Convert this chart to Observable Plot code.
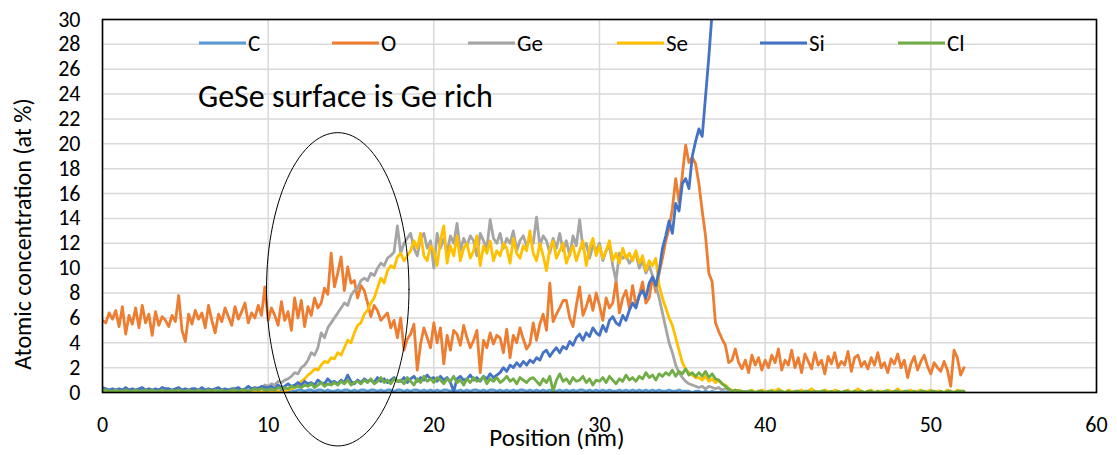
<!DOCTYPE html>
<html>
<head>
<meta charset="utf-8">
<script src="https://cdn.jsdelivr.net/npm/d3@7"></script>
<script src="https://cdn.jsdelivr.net/npm/@observablehq/plot@0.6"></script>
<style>
  body { margin: 0; background: #fff; }
  #chart { position: relative; width: 1117px; height: 455px; }
</style>
</head>
<body>
<div id="chart"></div>
<script>
// ---------- DATA ----------
const seriesNames  = ["C", "O", "Ge", "Se", "Si", "Cl"];
const seriesColors = ["#5B9BD5", "#ED7D31", "#A5A5A5", "#FFC000", "#4472C4", "#70AD47"];
const positionStep = 0.2; // nm between depth-profile samples (first sample at 0 nm)
const xTicks = [0, 10, 20, 30, 40, 50, 60];
const yTicks = [0, 2, 4, 6, 8, 10, 12, 14, 16, 18, 20, 22, 24, 26, 28, 30];
const xLabel = "Position (nm)";
const yLabel = "Atomic concentration (at %)";
const noteText = "GeSe surface is Ge rich";

const C = [
0.1,0.2,0.1,0.1,0.0,0.1,0.2,0.1,0.1,0.0, 0.1,0.1,0.2,0.1,0.0,0.1,0.1,0.2,0.1,0.1,
0.0,0.1,0.2,0.1,0.1,0.0,0.1,0.2,0.1,0.1, 0.1,0.0,0.1,0.2,0.1,0.1,0.0,0.1,0.2,0.1,
0.1,0.2,0.1,0.0,0.1,0.1,0.2,0.1,0.0,0.1, 0.1,0.1,0.2,0.1,0.1,0.2,0.1,0.2,0.1,0.2,
0.2,0.1,0.2,0.2,0.1,0.2,0.2,0.1,0.2,0.1, 0.1,0.2,0.1,0.2,0.2,0.1,0.2,0.1,0.2,0.2,
0.1,0.2,0.2,0.1,0.2,0.1,0.2,0.2,0.1,0.2, 0.2,0.1,0.2,0.1,0.2,0.2,0.1,0.2,0.1,0.2,
0.1,0.2,0.1,0.2,0.2,0.1,0.2,0.1,0.2,0.1, 0.2,0.1,0.2,0.2,0.1,0.2,0.1,0.2,0.2,0.1,
0.2,0.1,0.2,0.1,0.2,0.1,0.2,0.2,0.1,0.2, 0.1,0.2,0.1,0.2,0.1,0.2,0.1,0.1,0.2,0.1,
0.2,0.1,0.2,0.1,0.2,0.2,0.1,0.2,0.1,0.2, 0.1,0.2,0.1,0.2,0.1,0.1,0.2,0.1,0.2,0.1,
0.2,0.1,0.2,0.1,0.2,0.1,0.2,0.1,0.2,0.1, 0.1,0.2,0.1,0.1,0.2,0.1,0.1,0.1,0.0,0.1,
0.1,0.0,0.1,0.0,0.1,0.0,0.0,0.1,0.0,0.1, 0.0,0.1,0.0,0.0,0.1,0.0,0.1,0.0,0.0,0.1,
0.0,0.0,0.1,0.0,0.1,0.0,0.0,0.1,0.0,0.0, 0.1,0.0,0.0,0.1,0.0,0.1,0.0,0.0,0.1,0.0,
0.0,0.1,0.0,0.0,0.1,0.0,0.0,0.1,0.0,0.1, 0.0,0.0,0.1,0.0,0.0,0.1,0.0,0.1,0.0,0.0,
0.1,0.0,0.0,0.1,0.0,0.0,0.1,0.0,0.0,0.1, 0.0];

const O = [
5.8,5.6,6.4,5.9,6.6,5.3,6.9,4.7,6.2,5.5, 6.8,5.2,7.0,5.6,6.3,4.6,6.5,5.4,6.1,5.8,
5.3,6.2,5.7,7.8,5.0,4.1,6.3,5.5,6.6,5.9, 6.4,5.2,7.0,5.8,4.8,6.3,5.7,6.8,6.1,5.4,
6.9,5.9,6.5,7.2,5.6,6.4,6.0,7.0,6.2,8.5, 5.8,6.8,6.2,5.4,7.3,5.8,6.5,5.0,7.6,6.0,
7.4,5.3,6.9,6.2,7.6,6.8,7.2,8.4,7.9,11.2, 8.5,9.6,10.9,8.2,10.1,8.8,9.0,7.6,8.6,8.2,
7.2,6.1,7.0,6.6,5.8,6.1,6.4,5.2,5.8,4.4, 6.0,3.4,4.3,4.7,5.5,1.8,3.9,5.2,4.4,3.6,
5.6,4.0,5.2,2.3,4.6,3.4,5.0,4.7,3.8,5.4, 4.4,3.6,4.2,5.0,1.6,4.2,3.6,4.8,3.9,4.6,
4.4,3.2,5.1,2.8,4.6,4.0,5.2,4.3,3.5,3.9, 5.6,4.2,5.5,6.3,5.0,8.8,5.7,6.3,6.8,7.4,
7.4,6.0,5.3,7.0,8.5,6.2,6.9,7.8,6.6,8.0, 7.0,5.8,7.6,6.8,7.2,9.0,6.4,7.6,8.2,6.8,
8.6,7.0,7.8,8.9,7.2,7.6,9.3,8.1,9.6,10.8, 12.2,13.2,14.8,17.2,15.3,17.5,19.9,18.5,18.9,18.4,
16.8,14.6,12.6,9.6,8.9,5.6,4.9,4.3,3.8,2.4, 2.6,3.5,2.4,1.9,2.6,1.6,3.0,2.2,2.8,1.8,
2.6,2.0,3.0,2.4,3.5,1.8,2.6,2.2,3.4,2.0, 2.8,1.6,3.1,2.5,1.9,3.2,2.2,2.6,1.5,2.9,
2.3,3.2,2.0,2.5,2.2,3.3,1.7,2.8,3.0,2.1, 2.5,1.9,2.8,2.2,3.2,2.0,2.4,1.6,2.7,2.3,
3.1,2.0,2.6,1.2,2.3,2.9,1.8,2.5,3.0,2.1, 1.5,2.4,2.0,1.7,2.5,1.8,0.5,3.4,2.8,1.4,
2.0];

const Ge = [
0.1,0.0,0.1,0.1,0.0,0.1,0.0,0.1,0.0,0.1, 0.0,0.1,0.1,0.0,0.1,0.0,0.1,0.1,0.0,0.1,
0.1,0.0,0.1,0.0,0.1,0.1,0.0,0.1,0.0,0.1, 0.0,0.1,0.0,0.1,0.1,0.0,0.1,0.0,0.1,0.1,
0.1,0.0,0.1,0.1,0.2,0.1,0.2,0.4,0.3,0.6, 0.5,0.7,0.6,0.9,0.8,1.0,1.1,1.3,1.6,1.5,
2.0,2.2,2.6,3.2,3.0,3.6,4.8,4.4,5.2,5.6, 6.0,6.4,6.8,7.2,7.0,7.8,8.2,8.4,9.0,9.2,
9.0,9.6,9.4,10.0,10.4,10.2,10.8,11.0,11.3,13.4, 11.2,12.0,12.4,12.8,11.6,11.0,12.4,12.8,11.6,12.2,
10.0,12.8,11.6,12.4,11.2,12.6,12.0,13.6,11.4,12.4, 11.8,12.6,12.2,11.0,12.8,12.2,11.6,13.9,12.4,12.0,
12.8,11.6,12.4,12.0,13.0,11.4,12.2,12.6,11.8,12.4, 12.0,14.1,11.8,12.6,12.2,11.2,12.4,11.6,12.8,11.4,
12.2,11.0,12.6,11.8,13.9,11.6,12.0,10.8,11.8,11.4, 12.0,10.6,11.4,11.8,10.2,9.0,11.2,10.8,11.0,10.4,
10.8,11.2,10.0,10.6,9.6,10.2,9.4,8.6,7.6,6.4, 5.2,4.0,3.2,2.2,1.6,1.2,0.9,0.7,0.6,0.5,
0.4,0.5,0.3,0.5,0.4,0.3,0.4,0.2,0.3,0.2, 0.1,0.1,0.0,0.1,0.0,0.1,0.0,0.0,0.1,0.0,
0.0,0.1,0.0,0.0,0.1,0.0,0.0,0.1,0.0,0.0, 0.1,0.0,0.0,0.1,0.0,0.0,0.1,0.0,0.0,0.1,
0.0,0.0,0.1,0.0,0.0,0.1,0.0,0.0,0.1,0.0, 0.0,0.1,0.0,0.0,0.1,0.0,0.0,0.0,0.1,0.0,
0.0,0.1,0.0,0.0,0.0,0.1,0.0,0.0,0.1,0.0, 0.0,0.0,0.1,0.0,0.0,0.1,0.0,0.0,0.1,0.0,
0.0];

const Se = [
0.0,0.1,0.0,0.0,0.1,0.0,0.0,0.1,0.0,0.0, 0.1,0.0,0.0,0.1,0.0,0.0,0.0,0.1,0.0,0.0,
0.0,0.1,0.0,0.0,0.1,0.0,0.0,0.0,0.1,0.0, 0.0,0.0,0.1,0.0,0.0,0.1,0.0,0.0,0.0,0.1,
0.0,0.0,0.1,0.0,0.0,0.1,0.0,0.1,0.0,0.1, 0.1,0.0,0.1,0.1,0.0,0.1,0.2,0.3,0.4,0.6,
0.9,1.1,1.4,1.6,1.9,1.8,2.2,2.5,2.4,2.8, 2.7,3.2,3.0,3.6,4.2,4.0,4.8,5.4,5.6,6.3,
6.6,7.2,7.6,8.4,9.2,8.8,9.8,10.2,10.0,10.9, 11.2,10.6,11.0,11.4,12.2,11.6,12.8,11.0,10.6,11.8,
11.4,10.2,12.2,13.4,10.4,11.8,11.0,12.6,10.6,11.6, 12.0,10.8,11.4,12.6,10.2,11.8,11.2,12.2,10.6,11.4,
11.0,12.0,11.6,10.4,12.4,11.2,10.8,11.8,11.4,13.0, 11.2,10.6,12.0,11.0,9.8,11.6,12.2,10.8,11.4,12.0,
10.4,11.2,11.8,10.6,11.4,12.2,10.2,11.6,12.4,11.0, 11.8,10.8,11.4,12.2,10.6,11.2,10.4,11.6,10.8,11.2,
10.6,11.4,10.4,11.0,9.8,10.6,10.2,10.8,8.6,7.6, 6.8,6.0,5.4,4.4,3.4,2.4,1.9,1.6,1.4,1.2,
1.2,1.0,1.3,0.9,1.1,0.8,1.0,0.7,0.6,0.3, 0.2,0.1,0.2,0.1,0.0,0.1,0.2,0.0,0.1,0.2,
0.1,0.0,0.2,0.1,0.3,0.1,0.0,0.2,0.1,0.0, 0.1,0.2,0.0,0.1,0.3,0.1,0.0,0.1,0.2,0.1,
0.0,0.2,0.1,0.0,0.1,0.2,0.0,0.1,0.3,0.1, 0.0,0.1,0.2,0.0,0.1,0.1,0.0,0.2,0.1,0.0,
0.3,0.1,0.0,0.1,0.2,0.0,0.1,0.2,0.0,0.1, 0.2,0.0,0.1,0.1,0.0,0.2,0.1,0.0,0.2,0.1,
0.1];

const Si = [
0.4,0.3,0.2,0.3,0.2,0.3,0.2,0.4,0.2,0.3, 0.2,0.3,0.4,0.2,0.3,0.2,0.3,0.2,0.4,0.3,
0.3,0.2,0.3,0.4,0.2,0.3,0.2,0.3,0.3,0.2, 0.4,0.2,0.3,0.2,0.3,0.4,0.2,0.3,0.2,0.3,
0.3,0.4,0.2,0.3,0.5,0.3,0.4,0.3,0.5,0.4, 0.4,0.5,0.3,0.6,0.4,0.5,0.7,0.5,0.6,0.8,
0.6,0.9,0.7,0.8,0.6,1.0,0.8,0.7,1.1,0.8, 0.9,0.7,1.0,0.8,1.4,0.9,0.7,1.0,0.8,1.1,
0.9,1.0,0.8,1.2,0.9,1.1,0.8,1.0,1.2,0.9, 0.9,1.2,0.8,1.1,1.3,0.9,1.2,1.0,1.4,1.1,
1.2,0.9,1.3,1.0,1.2,0.8,0.1,1.1,1.3,1.0, 1.1,1.4,1.0,1.2,0.9,1.3,1.1,1.5,1.2,1.4,
1.6,2.0,1.7,2.2,2.0,2.4,2.1,2.5,2.2,2.6, 2.4,2.8,2.6,3.2,3.4,2.9,3.3,3.6,3.2,3.7,
3.5,4.1,3.8,4.4,4.7,4.2,4.8,4.5,5.2,4.8, 4.6,5.4,4.9,5.8,6.1,5.6,5.4,6.2,5.8,6.6,
7.2,6.8,7.8,8.2,7.6,8.8,9.3,8.6,9.8,11.6, 12.6,13.8,12.8,15.2,14.6,16.8,17.2,16.4,19.0,20.2,
21.2,20.6,23.8,27.0,30.6,34.0];

const Cl = [
0.1,0.2,0.1,0.1,0.2,0.1,0.1,0.2,0.1,0.1, 0.2,0.1,0.1,0.2,0.1,0.2,0.1,0.1,0.2,0.1,
0.1,0.2,0.1,0.2,0.1,0.1,0.2,0.1,0.1,0.2, 0.1,0.1,0.2,0.1,0.2,0.1,0.2,0.1,0.1,0.2,
0.2,0.1,0.2,0.2,0.1,0.2,0.3,0.2,0.3,0.2, 0.2,0.3,0.2,0.4,0.3,0.4,0.3,0.5,0.4,0.5,
0.4,0.6,0.5,0.7,0.4,0.6,0.8,0.5,0.7,0.6, 0.8,0.6,0.9,0.7,1.0,0.6,0.8,0.9,0.7,1.0,
0.8,1.1,0.7,0.9,1.2,0.8,1.0,0.7,1.1,0.9, 1.0,0.7,1.2,0.9,0.6,1.1,0.8,1.3,0.9,1.1,
0.8,1.2,1.0,0.7,1.1,0.9,1.3,0.8,1.0,0.6, 1.1,0.8,1.2,0.9,1.0,1.3,0.7,1.1,0.9,1.2,
0.8,1.0,1.3,0.9,1.1,0.7,1.2,1.0,0.8,1.1, 1.2,0.9,0.6,1.1,0.8,1.3,0.1,1.0,1.5,0.9,
1.1,0.7,1.2,0.9,1.0,1.3,0.8,1.1,0.6,1.0, 0.9,1.2,0.8,1.3,1.0,0.7,1.1,0.9,1.4,1.0,
1.2,0.9,1.3,1.1,1.6,1.2,1.4,1.0,1.5,1.3, 1.6,1.4,1.8,1.3,1.7,1.5,1.9,1.4,1.6,1.3,
1.6,1.3,1.7,1.2,1.5,1.1,1.0,0.7,0.5,0.3, 0.1,0.2,0.1,0.1,0.0,0.1,0.1,0.0,0.1,0.1,
0.0,0.1,0.1,0.0,0.1,0.1,0.0,0.1,0.0,0.1, 0.1,0.0,0.1,0.1,0.0,0.1,0.0,0.1,0.1,0.0,
0.1,0.0,0.1,0.0,0.1,0.1,0.0,0.1,0.0,0.1, 0.0,0.1,0.1,0.0,0.1,0.0,0.1,0.1,0.0,0.1,
0.1,0.0,0.1,0.1,0.0,0.1,0.0,0.1,0.1,0.0, 0.1,0.1,0.0,0.1,0.0,0.1,0.1,0.0,0.1,0.1,
0.1];

// Annotation ellipse (data units): centre, half-width, half-height
const ellipseCenter = [14.2, 8.3];
const ellipseRadii = [4.3, 12.6];

// ---------- BUILD ----------
const seriesValues = [C, O, Ge, Se, Si, Cl];
const tables = seriesValues.map((vals, k) =>
  vals.map((v, i) => ({ x: +(i * positionStep).toFixed(2), y: v, s: seriesNames[k] })));

const ellipsePts = d3.range(0, 361, 3).map(a => {
  const t = a * Math.PI / 180;
  return { x: ellipseCenter[0] + ellipseRadii[0] * Math.cos(t),
           y: ellipseCenter[1] + ellipseRadii[1] * Math.sin(t) };
});

const FONT = "Carlito, Calibri, Lato, sans-serif";

const plot = Plot.plot({
  width: 1117,
  height: 455,
  marginLeft: 102,
  marginRight: 21,
  marginTop: 19,
  marginBottom: 63,
  style: { fontFamily: FONT, fontSize: "22px", background: "#fff", color: "#000", overflow: "visible" },
  x: { domain: [0, 60] },
  y: { domain: [0, 30] },
  color: { domain: seriesNames, range: seriesColors },
  marks: [
    Plot.gridY(yTicks, { stroke: "#D9D9D9", strokeOpacity: 1, strokeWidth: 1.5 }),
    Plot.gridX(xTicks, { stroke: "#D9D9D9", strokeOpacity: 1, strokeWidth: 1.5 }),
    ...tables.map(t => Plot.line(t, { x: "x", y: "y", stroke: "s", strokeWidth: 2.8, clip: true })),
    Plot.frame({ stroke: "#000", strokeWidth: 1.6 }),
    Plot.line(ellipsePts, { x: "x", y: "y", stroke: "#000", strokeWidth: 1, curve: "linear-closed" }),
    Plot.axisX(xTicks, { tickSize: 0, tickPadding: 24, fontSize: 22, label: null, fill: "#000" }),
    Plot.axisY(yTicks, { tickSize: 0, tickPadding: 22, fontSize: 22, label: null, fill: "#000" })
  ]
});

const svg = d3.select(plot);
// make sure the tick labels get the intended size
svg.selectAll("g[aria-label$='tick label'], g[aria-label$='tick label'] text")
  .style("font-size", "22px").style("font-family", FONT);

// axis titles
svg.append("text")
  .attr("x", 557).attr("y", 446)
  .attr("text-anchor", "middle")
  .style("font-family", FONT).style("font-size", "25px").attr("fill", "#000")
  .text(xLabel);
svg.append("text")
  .attr("transform", "translate(31,234) rotate(-90)")
  .attr("text-anchor", "middle")
  .style("font-family", FONT).style("font-size", "24px").attr("fill", "#000")
  .text(yLabel);
// note
svg.append("text")
  .attr("x", 198).attr("y", 107)
  .attr("text-anchor", "start")
  .style("font-family", FONT).style("font-size", "32px").attr("fill", "#000")
  .text(noteText);
// legend (inside plot, top)
const legendX = [199, 332, 468, 617, 760, 898];
const lg = svg.append("g");
seriesNames.forEach((name, i) => {
  lg.append("line")
    .attr("x1", legendX[i]).attr("x2", legendX[i] + 47)
    .attr("y1", 43).attr("y2", 43)
    .attr("stroke", seriesColors[i]).attr("stroke-width", 3);
  lg.append("text")
    .attr("x", legendX[i] + 49).attr("y", 43).attr("dy", "0.35em")
    .attr("text-anchor", "start")
    .style("font-family", FONT).style("font-size", "23px").attr("fill", "#000")
    .text(name);
});

document.getElementById("chart").appendChild(plot);
</script>
</body>
</html>
